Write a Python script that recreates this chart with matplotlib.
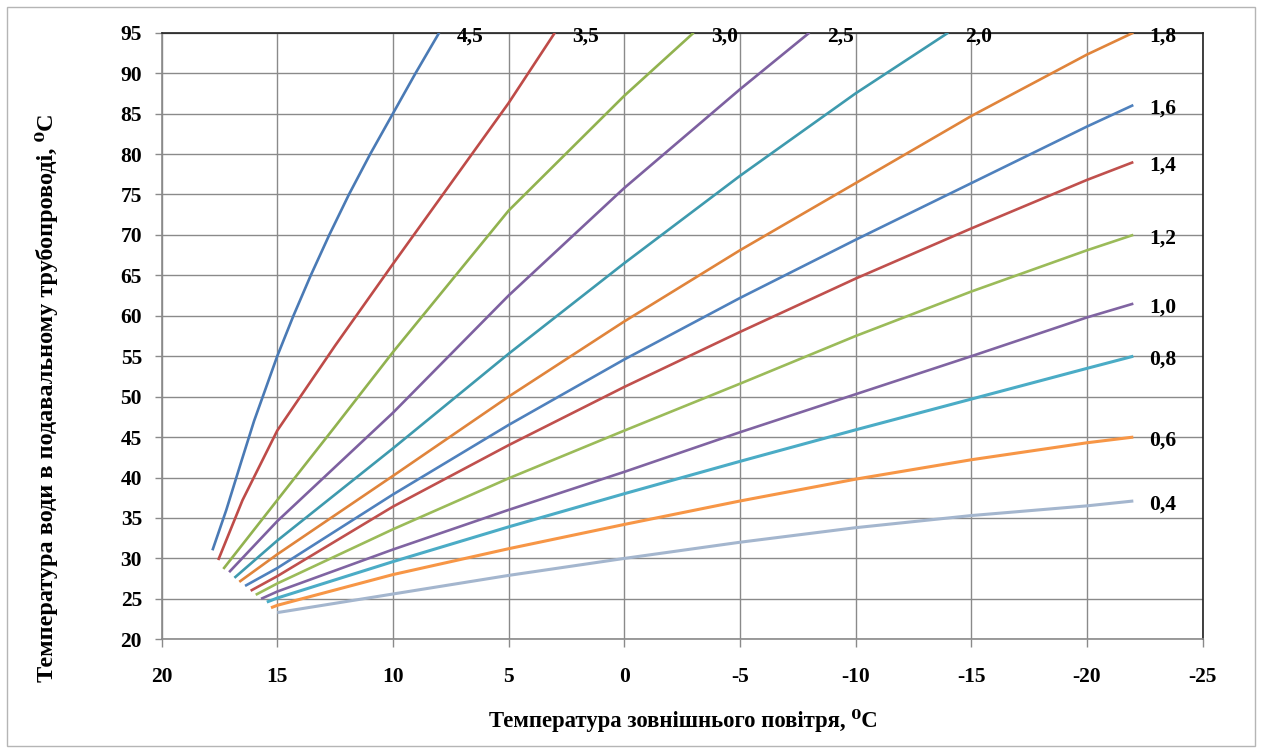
import matplotlib
matplotlib.use("Agg")
import matplotlib.pyplot as plt
from matplotlib.patches import Rectangle

plt.rcParams['font.family'] = ['Liberation Serif', 'DejaVu Serif']
plt.rcParams['font.weight'] = 'bold'
plt.rcParams['axes.unicode_minus'] = False

# outdoor temperature (x) and supply water temperature (y) for each curve
t_45 = [17.8, 17.2, 16.55, 16.0, 15.5, 15.0, 14.3, 13.55, 12.75, 11.9, 10.98, 10.0, 9.02, 8.0]
v_45 = [31.0, 36.0, 42.0, 47.0, 51.0, 55.0, 60.0, 65.0, 70.0, 75.0, 80.0, 85.0, 90.0, 95.0]

t_35 = [17.55, 16.5, 15.0, 12.5, 10.0, 5.0, 3.0]
v_35 = [29.8, 37.2, 45.8, 56.3, 66.4, 86.3, 95.0]

t_30 = [17.33, 15.0, 12.5, 10.0, 5.0, 0.0, -3.0]
v_30 = [28.7, 37.2, 46.3, 55.5, 73.0, 87.2, 95.0]

t_25 = [17.08, 15.0, 10.0, 5.0, 0.0, -5.0, -8.0]
v_25 = [28.3, 34.6, 48.0, 62.5, 75.8, 88.0, 95.0]

t_20 = [16.85, 15.0, 10.0, 5.0, 0.0, -5.0, -10.0, -14.0]
v_20 = [27.6, 32.2, 43.6, 55.3, 66.5, 77.3, 87.5, 95.0]

t_std = [15.0, 10.0, 5.0, 0.0, -5.0, -10.0, -15.0, -20.0, -22.0]

t0_18, y0_18 = 16.64, 27.1
v_18 = [30.5, 40.2, 50.0, 59.3, 68.1, 76.4, 84.7, 92.3, 95.0]
t0_16, y0_16 = 16.39, 26.6
v_16 = [28.8, 37.9, 46.5, 54.6, 62.2, 69.4, 76.4, 83.4, 86.05]
t0_14, y0_14 = 16.15, 26.0
v_14 = [27.8, 36.4, 44.0, 51.2, 58.0, 64.6, 70.8, 76.8, 79.0]
t0_12, y0_12 = 15.93, 25.5
v_12 = [26.9, 33.6, 39.9, 45.8, 51.6, 57.5, 63.0, 68.1, 70.0]
t0_10, y0_10 = 15.7, 25.0
v_10 = [25.9, 31.1, 36.0, 40.7, 45.6, 50.3, 55.0, 59.8, 61.5]
t0_08, y0_08 = 15.45, 24.6
v_08 = [25.1, 29.6, 33.9, 38.0, 42.0, 45.9, 49.7, 53.5, 55.0]
t0_06, y0_06 = 15.27, 23.9
v_06 = [24.2, 28.0, 31.2, 34.2, 37.1, 39.8, 42.2, 44.3, 45.0]

t_04 = [15.0, 10.0, 5.0, 0.0, -5.0, -10.0, -15.0, -20.0, -22.0]
v_04 = [23.3, 25.6, 27.9, 30.0, 32.0, 33.8, 35.3, 36.5, 37.1]

labels = ['4,5', '3,5', '3,0', '2,5', '2,0', '1,8', '1,6', '1,4', '1,2', '1,0', '0,8', '0,6', '0,4']
colors = ['#4A7AB5', '#BE4B48', '#91B24F', '#7D60A0', '#3E9AAE', '#E0843B', '#4F81BD',
          '#C0504D', '#9BBB59', '#8064A2', '#4BACC6', '#F79646', '#A4B6CE']

x_ticks = [20, 15, 10, 5, 0, -5, -10, -15, -20, -25]
y_ticks = [20, 25, 30, 35, 40, 45, 50, 55, 60, 65, 70, 75, 80, 85, 90, 95]

curves = [
    (t_45, v_45), (t_35, v_35), (t_30, v_30), (t_25, v_25), (t_20, v_20),
    ([t0_18] + t_std, [y0_18] + v_18),
    ([t0_16] + t_std, [y0_16] + v_16),
    ([t0_14] + t_std, [y0_14] + v_14),
    ([t0_12] + t_std, [y0_12] + v_12),
    ([t0_10] + t_std, [y0_10] + v_10),
    ([t0_08] + t_std, [y0_08] + v_08),
    ([t0_06] + t_std, [y0_06] + v_06),
    (t_04, v_04),
]

fig = plt.figure(figsize=(12.61, 7.53), dpi=100)
ax = fig.add_axes([0.1281, 0.151, 0.8257, 0.8056])

for (tx, vy), lab, col in zip(curves, labels, colors):
    lw = 2.2 if lab in ('0,4', '0,6', '0,8') else 1.9
    ax.plot(tx, vy, color=col, lw=lw, solid_capstyle='butt',
            solid_joinstyle='round', zorder=3)
    if vy[-1] >= 95 and tx[-1] > -22:
        ax.text(tx[-1] - 0.75, 94.5, lab, ha='left', va='center',
                fontsize=15.5, fontweight='bold', zorder=4)
    else:
        ax.text(-22.7, vy[-1] - 0.45, lab, ha='left', va='center',
                fontsize=15.5, fontweight='bold', zorder=4)

ax.set_xlim(20, -25)
ax.set_ylim(20, 95)
ax.set_xticks(x_ticks)
ax.set_xticklabels([str(v) for v in x_ticks])
ax.set_yticks(y_ticks)
ax.set_yticklabels([str(v) for v in y_ticks])
ax.grid(True, color='#8a8a8a', lw=1.0, zorder=1)
ax.set_axisbelow(True)

ax.tick_params(axis='x', direction='out', length=6, width=1, color='#8a8a8a',
               pad=14, labelsize=15.5)
ax.tick_params(axis='y', direction='out', length=5, width=1, color='#8a8a8a',
               pad=9, labelsize=15.5)
for lab in ax.get_xticklabels() + ax.get_yticklabels():
    lab.set_fontweight('bold')

ax.spines['left'].set_color('#8a8a8a')
ax.spines['bottom'].set_color('#8a8a8a')
ax.spines['top'].set_color('#202020')
ax.spines['right'].set_color('#202020')
for s in ax.spines.values():
    s.set_linewidth(1.2)

fig.text(683 / 1261, 1 - 720 / 753, 'Температура зовнішнього повітря, ⁰С',
         ha='center', va='center', fontsize=16.4, fontweight='bold')
fig.text(47 / 1261, 1 - 398 / 753, 'Температура води в подавальному трубопроводі, ⁰С',
         ha='center', va='center', rotation=90, fontsize=17.5, fontweight='bold')

fig.patches.append(Rectangle((7 / 1261, 1 - 746 / 753), 1248 / 1261, 739 / 753,
                             transform=fig.transFigure, fill=False,
                             edgecolor='#b5b5b5', lw=1.0))

fig.savefig('out.png', dpi=100)
